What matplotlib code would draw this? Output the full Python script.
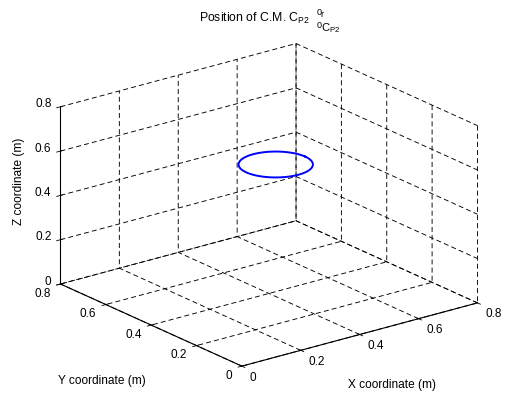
import numpy as np
import matplotlib
matplotlib.use("Agg")
import matplotlib.pyplot as plt
from matplotlib.ticker import NullFormatter
from mpl_toolkits.mplot3d import proj3d

# ---- data -------------------------------------------------------------
axis_ticks = [0.0, 0.2, 0.4, 0.6, 0.8]
tick_labels = ["0", "0.2", "0.4", "0.6", "0.8"]
axis_limits = (0.0, 0.8)
path_center = (0.5, 0.5, 0.5)   # centre of the C.M. trajectory (m)
path_radius = 0.1               # radius of the trajectory (m)

x_label = "X coordinate (m)"
y_label = "Y coordinate (m)"
z_label = "Z coordinate (m)"

# ---- style ------------------------------------------------------------
plt.rcParams.update({
    "font.family": ["Liberation Sans", "DejaVu Sans"],
    "font.size": 8.5,
    "mathtext.fontset": "custom",
    "mathtext.rm": "Liberation Sans",
    "mathtext.it": "Liberation Sans",
    "mathtext.bf": "Liberation Sans",
    "mathtext.default": "regular",
    "grid.color": "black",
    "grid.linewidth": 0.65,
    "grid.linestyle": (0, (5.5, 3.5)),
})

W, H = 507, 394
BOX_ASPECT = (1, 1, 0.636)
fig = plt.figure(figsize=(W / 100, H / 100), dpi=100)
fig.patch.set_facecolor("white")
ax = fig.add_axes([0.1, 0.1, 0.8 * H / W, 0.8], projection="3d",
                  proj_type="ortho")
ax.view_init(elev=20.4, azim=-127.6)
ax.set_box_aspect(BOX_ASPECT)
try:
    ax.set_xlim(*axis_limits, view_margin=0)
    ax.set_ylim(*axis_limits, view_margin=0)
    ax.set_zlim(*axis_limits, view_margin=0)
except TypeError:
    ax.set_xlim(*axis_limits)
    ax.set_ylim(*axis_limits)
    ax.set_zlim(*axis_limits)

ax.set_xticks(axis_ticks)
ax.set_yticks(axis_ticks)
ax.set_zticks(axis_ticks)

for axis in (ax.xaxis, ax.yaxis, ax.zaxis):
    axis.set_pane_color((1, 1, 1, 0))
    axis.line.set_color("black")
    axis.line.set_linewidth(0.8)
    axis.set_major_formatter(NullFormatter())
    axis.set_tick_params(labelbottom=False)
    axis._axinfo["tick"]["color"] = "black"
    axis._axinfo["tick"]["linewidth"] = {True: 0.6, False: 0.6}

# C.M. trajectory: horizontal circle
t = np.linspace(0, 2 * np.pi, 241)
cx, cy, cz = path_center
ax.plot(cx + path_radius * np.cos(t), cy + path_radius * np.sin(t),
        np.full_like(t, cz), color=(0, 0, 1), lw=1.4)

# ---- fit the projected box into the frame ------------------------------
fig.canvas.draw()


def to_px(x, y, z):
    xs, ys, _ = proj3d.proj_transform(x, y, z, ax.get_proj())
    return ax.transData.transform((xs, ys))


lo, hi = axis_limits
p0 = to_px(lo, lo, lo)
px_end = to_px(hi, lo, lo)
py_end = to_px(lo, hi, lo)
scale = (478 - 61) / (px_end[0] - py_end[0])
bb = ax.get_position().transformed(fig.transFigure)
c = np.array([bb.x0 + bb.width / 2, bb.y0 + bb.height / 2])
target0 = np.array([243.0, H - 365.0])
new_c = target0 - scale * (p0 - c)
# keep the axes square inside the figure and enlarge the view with zoom
side = 2 * min(new_c[0], W - new_c[0], new_c[1], H - new_c[1]) - 4
zoom = scale * bb.width / side
ax.set_box_aspect(BOX_ASPECT, zoom=zoom)
ax.set_position([(new_c[0] - side / 2) / W, (new_c[1] - side / 2) / H,
                 side / W, side / H])
fig.canvas.draw()

# ---- tick labels, placed beside each projected tick --------------------
def tick_text(x, y, z, s, dx, dy, ha):
    px, py = to_px(x, y, z)
    fig.text((px + dx) / W, (py + dy) / H, s, ha=ha, va="center",
             fontsize=8.5)


for v, s in zip(axis_ticks, tick_labels):
    tick_text(v, lo, lo, s, 8, -11.5, "left")      # X axis (front right)
    tick_text(lo, v, lo, s, -9.5, -9.5, "right")   # Y axis (front left)
    tick_text(lo, hi, v, s, -9, 2.5, "right")      # Z axis (left edge)

# ---- title -------------------------------------------------------------
def fig_txt(x_px, y_px, s, size, **kw):
    fig.text(x_px / W, 1 - y_px / H, s, fontsize=size, ha="left",
             va="baseline", **kw)


fig_txt(199, 22, r"Position of C.M. C$_{P2}$", 8.8)
fig_txt(316.5, 15, "0", 6.5)
fig_txt(320.5, 17, "r", 6.5)
fig_txt(316.5, 28, "0", 6.5)
fig_txt(321, 31, r"C$_{P2}$", 8)

# ---- axis labels -------------------------------------------------------
fig.text(392 / W, 1 - 385 / H, x_label, fontsize=8.6, ha="center",
         va="center")
fig.text(102 / W, 1 - 381 / H, y_label, fontsize=8.6, ha="center",
         va="center")
fig.text(19 / W, 1 - 181 / H, z_label, fontsize=8.6, ha="center",
         va="center", rotation=90)

fig.savefig("out.png", dpi=100, facecolor="white")
